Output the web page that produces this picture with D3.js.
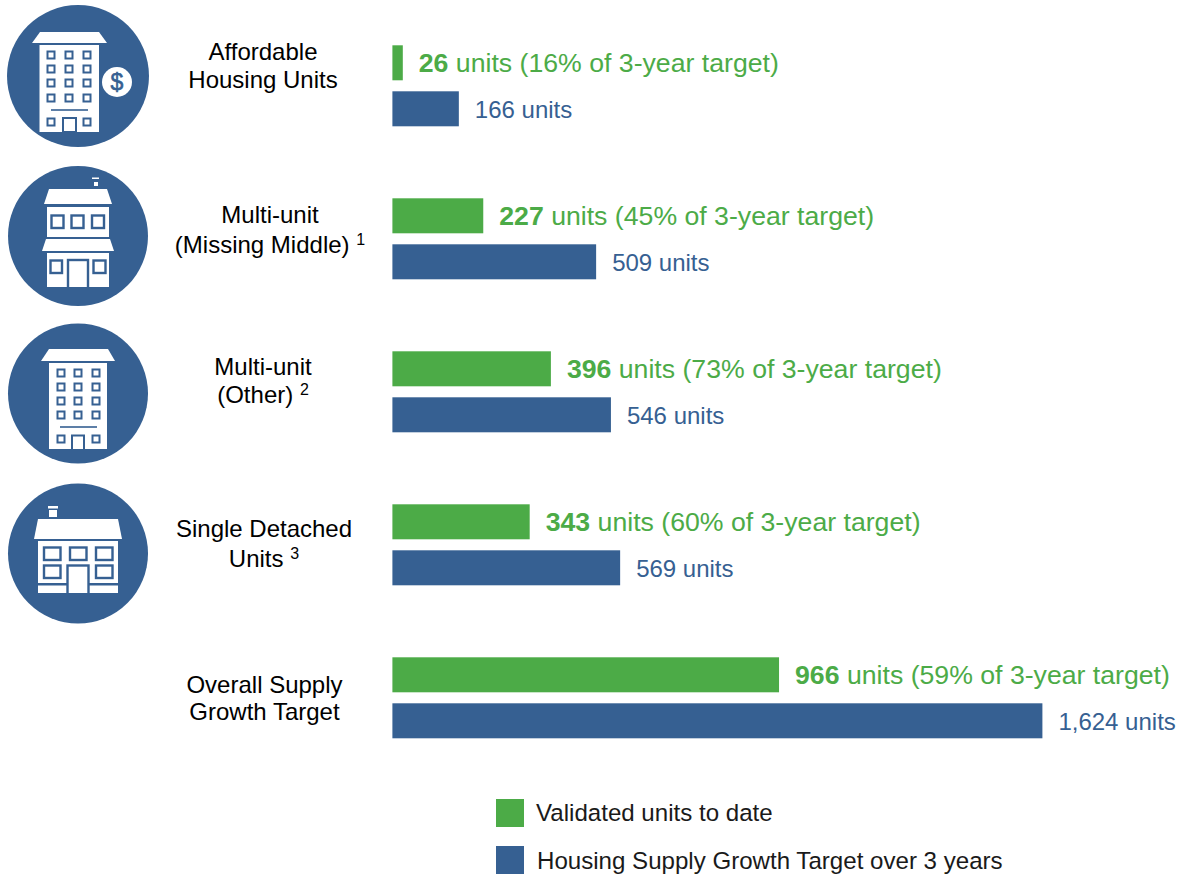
<!DOCTYPE html>
<html lang="en">
<head>
<meta charset="UTF-8">
<title>Housing Supply Growth Target progress</title>
<script src="https://cdn.jsdelivr.net/npm/d3@7"></script>
<style>
    html, body { margin: 0; padding: 0; background: #fff; overflow: hidden; }
    svg { display: block; font-family: "Liberation Sans", Arial, sans-serif; }
    .cat { font-size: 24px; fill: #000; text-anchor: middle; }
    .val-green { font-size: 26.67px; }
    .val-blue { font-size: 24px; }
    .leg { font-size: 24.1px; fill: #1a1a1a; }
</style>
</head>
<body>
<div id="chart"></div>
<script>
// Data
const categories = ["Affordable", "Missing Middle", "Other", "Single Detached", "Overall"];
const validated = [26, 227, 396, 343, 966];
const target = [166, 509, 546, 569, 1624];
const percent = [16, 45, 73, 60, 59];
const seriesNames = ["Validated units to date", "Housing Supply Growth Target over 3 years"];
const categoryLines = [
    [["Affordable"], ["Housing Units"]],
    [["Multi-unit"], ["(Missing Middle) ", "1"]],
    [["Multi-unit"], ["(Other) ", "2"]],
    [["Single Detached"], ["Units ", "3"]],
    [["Overall Supply"], ["Growth Target"]]
];

const green = "#4cab47";
const blue = "#366092";
const width = 1182, height = 874;

const svg = d3.select("#chart").append("svg")
    .attr("width", width)
    .attr("height", height);

// Scales: 1,624 units spans 650px, rows repeat every 153px
const x = d3.scaleLinear().domain([0, 1624]).range([392.4, 1042.4]);
const y = d3.scaleBand().domain(categories).range([45.3, 810.3]);
const yInner = d3.scaleBand().domain(["validated", "target"]).range([0, 81]).paddingInner(11 / 46);

const rows = svg.append("g").selectAll("g")
    .data(categories)
    .join("g")
    .attr("transform", d => `translate(0,${y(d)})`);

// Bars
rows.append("rect")
    .attr("x", x(0))
    .attr("y", yInner("validated"))
    .attr("width", (d, i) => x(validated[i]) - x(0))
    .attr("height", yInner.bandwidth())
    .attr("fill", green);

rows.append("rect")
    .attr("x", x(0))
    .attr("y", yInner("target"))
    .attr("width", (d, i) => x(target[i]) - x(0))
    .attr("height", yInner.bandwidth())
    .attr("fill", blue);

// Value labels
const greenLabel = rows.append("text")
    .attr("class", "val-green")
    .attr("x", (d, i) => x(validated[i]) + 16)
    .attr("y", yInner("validated") + 27)
    .attr("fill", green);
greenLabel.append("tspan")
    .attr("font-weight", "bold")
    .text((d, i) => d3.format(",")(validated[i]));
greenLabel.append("tspan")
    .text((d, i) => ` units (${percent[i]}% of 3-year target)`);

rows.append("text")
    .attr("class", "val-blue")
    .attr("x", (d, i) => x(target[i]) + 16)
    .attr("y", yInner("target") + 26.5)
    .attr("fill", blue)
    .text((d, i) => `${d3.format(",")(target[i])} units`);

// Category labels, line positions are not regular in the original
const labelX = [263, 270, 263, 264, 264.5];
const labelY = [[60, 88], [223, 253], [375, 403], [537, 567], [693, 720]];
categoryLines.forEach((lines, i) => {
    lines.forEach((parts, j) => {
        const t = svg.append("text")
            .attr("class", "cat")
            .attr("x", labelX[i])
            .attr("y", labelY[i][j]);
        t.append("tspan").text(parts[0]);
        if (parts[1]) {
            t.append("tspan").attr("font-size", 16).attr("dy", -8).text(parts[1]);
        }
    });
});

// Legend
const legend = svg.append("g").selectAll("g")
    .data(seriesNames)
    .join("g")
    .attr("transform", (d, i) => `translate(496,${799 + i * 47})`);
legend.append("rect")
    .attr("width", 28)
    .attr("height", 28)
    .attr("fill", (d, i) => i ? blue : green);
legend.append("text")
    .attr("class", "leg")
    .attr("x", (d, i) => i ? 41 : 40)
    .attr("y", (d, i) => i ? 23 : 22)
    .text(d => d);

// Icons
const icons = svg.append("g");
function poly(points) {
    icons.append("polygon").attr("points", points).attr("fill", "#fff");
}
function box(x0, y0, x1, y1, fill) {
    icons.append("rect")
        .attr("x", x0).attr("y", y0)
        .attr("width", x1 - x0).attr("height", y1 - y0)
        .attr("fill", fill || "#fff");
}
function win(x0, y0, x1, y1, sw) {
    icons.append("rect")
        .attr("x", x0).attr("y", y0)
        .attr("width", x1 - x0).attr("height", y1 - y0)
        .attr("fill", "#fff")
        .attr("stroke", blue)
        .attr("stroke-width", sw || 2.4);
}
function circle(cx, cy, r, fill) {
    icons.append("circle").attr("cx", cx).attr("cy", cy).attr("r", r).attr("fill", fill);
}
function tower(cols, rowsY, lineX0, lineX1, lineY, bottomY, doorX0, doorX1, doorY0, doorY1) {
    rowsY.forEach(ry => cols.forEach(cx => win(cx - 3.5, ry - 3.5, cx + 3.5, ry + 3.5, 2)));
    box(lineX0, lineY - 0.8, lineX1, lineY + 0.8, blue);
    [cols[0], cols[2]].forEach(cx => win(cx - 3.5, bottomY - 3.5, cx + 3.5, bottomY + 3.5, 2));
    win(doorX0, doorY0, doorX1, doorY1 + 2, 2);
}

// Affordable housing tower
circle(78, 76, 71, blue);
poly("40,32 99,32 107,43 32,43");
box(39.5, 45, 99, 132);
tower([51, 69, 87], [55, 69, 83, 98], 51, 88, 110, 122, 63, 76, 118, 130);
box(39.5, 132, 99, 134, blue);
circle(117, 82, 15, "#fff");
icons.append("text")
    .attr("x", 117).attr("y", 90)
    .attr("text-anchor", "middle")
    .attr("font-size", 23)
    .attr("fill", blue)
    .attr("stroke", blue)
    .attr("stroke-width", 0.6)
    .text("$");

// Missing middle house
circle(78, 236, 70, blue);
box(92, 177.5, 99, 179);
box(94, 182, 98, 186);
poly("49,189 107,189 112,204 44,204");
box(47, 207, 109, 237);
win(51.5, 215.5, 63.5, 228);
win(71.5, 215.5, 83.5, 228);
win(92, 215.5, 104, 228);
poly("46,239 110,239 114,251 42,251");
box(47, 253, 109, 287);
win(50.5, 260.5, 62, 273);
win(93.5, 260.5, 105.5, 273);
win(68, 260, 88, 290);
box(60, 287, 100, 292, blue);

// Other multi-unit tower
circle(78, 393.5, 70, blue);
poly("49,349 108,349 115,361 41,361");
box(49, 363, 107, 449);
tower([61, 78, 96], [373, 387, 401, 415], 60, 97, 427, 439, 72, 84, 435.5, 449);
box(49, 449, 107, 452, blue);

// Single detached house
circle(78, 553.5, 70, blue);
box(48, 506, 58, 508.5);
box(49, 510, 57, 517);
poly("38,519 118,519 122,539 34,539");
box(38, 541, 118, 593);
win(44, 547.5, 60.5, 560);
win(70, 547.5, 86.5, 560);
win(96, 547.5, 112.5, 560);
win(44, 565.5, 60.5, 578);
win(96, 565.5, 112.5, 578);
box(38, 583, 118, 585.5, blue);
win(67.5, 565.5, 88.5, 596);
box(60, 593, 100, 598, blue);
</script>
</body>
</html>
